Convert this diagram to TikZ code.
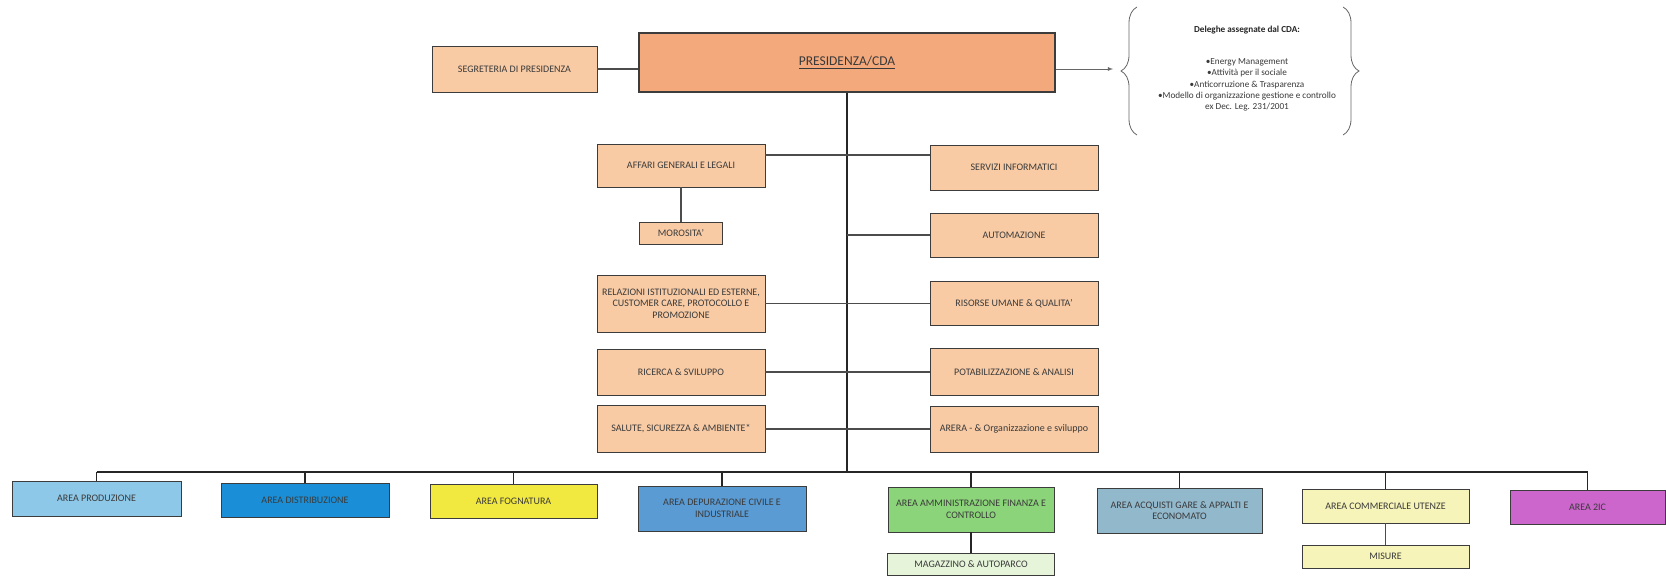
\documentclass[tikz,border=0pt]{standalone}
\usepackage{fontspec}
\setmainfont{Carlito}
\usepackage{tikz}
\usetikzlibrary{arrows}
\usetikzlibrary{decorations.pathreplacing}

\definecolor{pesca}{HTML}{F8CBA5}
\definecolor{salmone}{HTML}{F3A97C}
\definecolor{celeste}{HTML}{8DC8E8}
\definecolor{azzurro}{HTML}{1A8FD8}
\definecolor{giallo}{HTML}{F2E940}
\definecolor{acciaio}{HTML}{5B9BD3}
\definecolor{verde}{HTML}{8CD47A}
\definecolor{verdino}{HTML}{E6F4D9}
\definecolor{grigioblu}{HTML}{92B8CC}
\definecolor{crema}{HTML}{F6F4B8}
\definecolor{magenta}{HTML}{CC66CC}
\definecolor{bordo}{HTML}{3C3C3C}
\definecolor{testo}{HTML}{3A3A3A}

\begin{document}
\begin{tikzpicture}[x=1pt, y=-1pt,
  ufficio/.style={draw=bordo, line width=0.9pt, fill=pesca, inner sep=0pt, align=center,
    text=testo, font=\fontsize{10}{11.5}\selectfont},
  colonna/.style={ufficio, minimum width=168pt},
  linea/.style={draw=black!70, line width=1.2pt},
  tronco/.style={draw=black!85, line width=2pt},
  graffa/.style={draw=black!60, line width=0.8pt, decorate, decoration={brace, amplitude=16pt}}]
\fill[white] (0,0) rectangle (1666,577);
\useasboundingbox (0,0) rectangle (1666,577);
\node[ufficio, fill=salmone, minimum width=416pt, minimum height=59pt, line width=1.2pt,
  font=\fontsize{13.5}{15}\selectfont] (pres) at (847,62.5) {\underline{PRESIDENZA/CDA}};
\node[ufficio, minimum width=165pt, minimum height=46pt] (seg) at (514.5,69) {SEGRETERIA DI PRESIDENZA};
\draw[linea] (seg.east) -- (seg.east -| pres.west);
\coordinate (punta) at (1113,69);
\draw[draw=black!60, line width=0.8pt, -latex] (seg.east -| pres.east) -- (punta);
\draw[graffa] (1137,135) -- (1137,7);
\draw[graffa] (1343,7) -- (1343,135);
\node[text=black!85, font=\fontsize{9.2}{11}\selectfont\bfseries] (titolo) at (1247,30) {Deleghe assegnate dal CDA:};
\node[text=testo, align=center, font=\fontsize{9.2}{11.3}\selectfont] (elenco) at (1247,85)
  {•Energy Management\\•Attività per il sociale\\•Anticorruzione \& Trasparenza\\
   •Modello di organizzazione gestione e controllo\\ex Dec. Leg. 231/2001};
\node[colonna, minimum height=43pt] (aff) at (681,165.5) {AFFARI GENERALI E LEGALI};
\node[ufficio, minimum width=83pt, minimum height=22pt] (mor) at (681,233) {MOROSITA'};
\node[colonna, minimum height=57pt] (rel) at (681,303.5) {RELAZIONI ISTITUZIONALI ED ESTERNE,\\CUSTOMER CARE, PROTOCOLLO E\\PROMOZIONE};
\node[colonna, minimum height=46pt] (ric) at (681,372) {RICERCA \& SVILUPPO};
\node[colonna, minimum height=47pt] (sal) at (681,429) {SALUTE, SICUREZZA \& AMBIENTE*};
\node[colonna, minimum height=45pt] (srv) at (1014,167.5) {SERVIZI INFORMATICI};
\node[colonna, minimum height=44pt] (aut) at (1014,235) {AUTOMAZIONE};
\node[colonna, minimum height=44pt] (ris) at (1014,303.5) {RISORSE UMANE \& QUALITA'};
\node[colonna, minimum height=47pt] (pot) at (1014,372) {POTABILIZZAZIONE \& ANALISI};
\node[colonna, minimum height=46pt] (are) at (1014,429) {ARERA - \& Organizzazione e sviluppo};
\coordinate (sbarra) at (847,472);
\draw[tronco] (pres.south) -- (sbarra);
\draw[linea] ([yshift=10.5pt]aff.east) -- ([yshift=12.5pt]srv.west);
\draw[linea] (aff.south) -- (mor.north);
\draw[linea] (aut.west -| pres.south) -- (aut.west);
\draw[linea] (rel.east) -- (ris.west);
\draw[linea] (ric.east) -- (pot.west);
\draw[linea] (sal.east) -- (are.west);
\node[ufficio, fill=celeste, minimum width=169pt, minimum height=35pt] (prod) at (96.5,498.5) {AREA PRODUZIONE};
\node[ufficio, fill=azzurro, minimum width=168pt, minimum height=34pt] (distr) at (305,500) {AREA DISTRIBUZIONE};
\node[ufficio, fill=giallo, minimum width=167pt, minimum height=34pt] (fogn) at (513.5,501) {AREA FOGNATURA};
\node[ufficio, fill=acciaio, minimum width=168pt, minimum height=45pt] (dep) at (722,508.5) {AREA DEPURAZIONE CIVILE E\\INDUSTRIALE};
\node[ufficio, fill=verde, minimum width=166pt, minimum height=45pt] (amm) at (971,509.5) {AREA AMMINISTRAZIONE FINANZA E\\CONTROLLO};
\node[ufficio, fill=verdino, minimum width=167pt, minimum height=22pt] (mag) at (971,564) {MAGAZZINO \& AUTOPARCO};
\node[ufficio, fill=grigioblu, minimum width=165pt, minimum height=45pt] (acq) at (1179.5,510.5) {AREA ACQUISTI GARE \& APPALTI E\\ECONOMATO};
\node[ufficio, fill=crema, minimum width=167pt, minimum height=34pt] (comm) at (1385.5,506) {AREA COMMERCIALE UTENZE};
\node[ufficio, fill=crema, minimum width=167pt, minimum height=23pt] (mis) at (1385.5,556.5) {MISURE};
\node[ufficio, fill=magenta, minimum width=155pt, minimum height=34pt] (a2ic) at (1587.5,507) {AREA 2IC};
\draw[tronco, line width=1.8pt] (prod.north |- sbarra) -- (a2ic.north |- sbarra);
\draw[tronco, line width=1.5pt] (prod.north) -- (prod.north |- sbarra);
\draw[tronco, line width=1.5pt] (distr.north) -- (distr.north |- sbarra);
\draw[tronco, line width=1.5pt] (fogn.north) -- (fogn.north |- sbarra);
\draw[tronco, line width=1.5pt] (dep.north) -- (dep.north |- sbarra);
\draw[tronco, line width=1.5pt] (amm.north) -- (amm.north |- sbarra);
\draw[tronco, line width=1.5pt] (acq.north) -- (acq.north |- sbarra);
\draw[tronco, line width=1.5pt] (comm.north) -- (comm.north |- sbarra);
\draw[tronco, line width=1.5pt] (a2ic.north) -- (a2ic.north |- sbarra);
\draw[tronco, line width=1.5pt] (amm.south) -- (mag.north);
\draw[linea] (comm.south) -- (mis.north);
\end{tikzpicture}
\end{document}
